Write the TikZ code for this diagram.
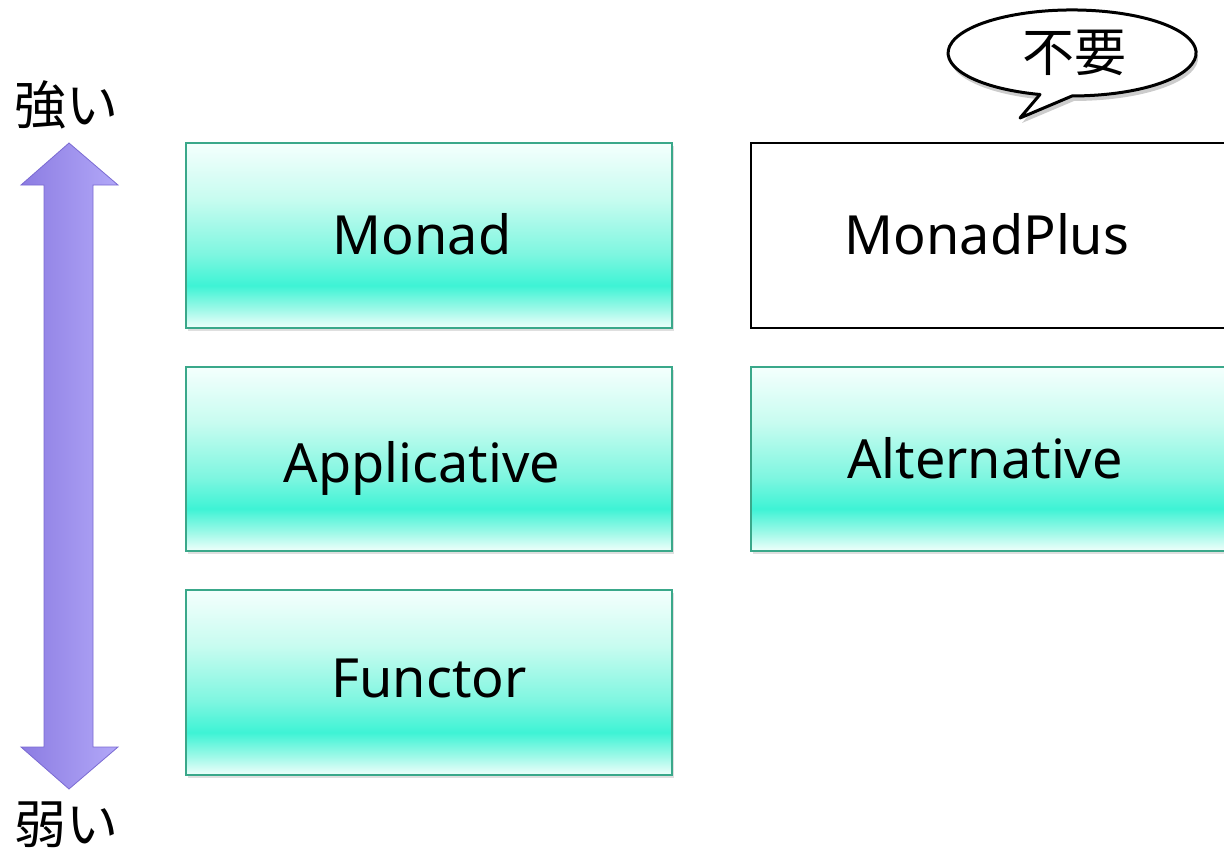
\documentclass[tikz,border=0pt]{standalone}
\usepackage{fontspec}
\setmainfont{Noto Sans}
\newfontfamily\jpfont{Noto Sans CJK JP}
\usetikzlibrary{shadows}
\definecolor{bA}{HTML}{F0FFFB}
\definecolor{bB}{HTML}{9FF9E8}
\definecolor{bC}{HTML}{3EF3D5}
\definecolor{bD}{HTML}{7EF6E0}
\definecolor{bDD}{HTML}{C8FCF0}
\definecolor{bE}{HTML}{F4FFFD}
\definecolor{boxedge}{HTML}{3AA88A}
\definecolor{arrL}{HTML}{8C7CE2}
\definecolor{arrR}{HTML}{B2A8F8}
\definecolor{arrEdge}{HTML}{7A6AD2}
\pgfdeclareverticalshading{boxshade}{100bp}{color(0bp)=(bA); color(25bp)=(bA); color(30bp)=(bB); color(36.5bp)=(bC); color(45bp)=(bD); color(60bp)=(bDD); color(75bp)=(bE); color(100bp)=(bE)}
\tikzset{
  classbox/.style={draw=boxedge, line width=2.5pt, shading=boxshade,
    drop shadow={opacity=0.25, shadow xshift=1.5pt, shadow yshift=-2.5pt}},
  plainbox/.style={draw=black, line width=2.5pt, fill=white},
  lbl/.style={font=\fontsize{54}{60}\selectfont, anchor=base, inner sep=0pt},
  jlbl/.style={font=\jpfont\fontsize{52}{56}\selectfont, inner sep=0pt},
}
\begin{document}
\begin{tikzpicture}[x=1pt,y=-1pt]
\useasboundingbox (0,0) rectangle (1224,851);
% boxes
\path[classbox] (186,143) rectangle (672,328);
\path[classbox] (186,367) rectangle (672,551);
\path[classbox] (186,590) rectangle (672,775);
\path[plainbox] (751,143) rectangle (1232,328);
\path[classbox] (751,367) rectangle (1232,551);
\node[lbl] (monad) at (422,254) {Monad};
\node[lbl] (applicative) at (422,482) {Applicative};
\node[lbl] (functor) at (429,697) {Functor};
\node[lbl] (monadplus) at (987,254) {MonadPlus};
\node[lbl] (alternative) at (985,478) {Alternative};
% double arrow
\path[draw=arrEdge, line width=0.8pt, left color=arrL, right color=arrR]
  (69,143) -- (118,185) -- (93,185) -- (93,747) -- (118,747) -- (69,789)
  -- (21,747) -- (44,747) -- (44,185) -- (21,185) -- cycle;
\node[jlbl] (strong) at (66,105) {強い};
\node[jlbl] (weak) at (66,825) {弱い};
% speech bubble
\path[draw=black, line width=3pt, fill=white, line join=round,
  drop shadow={opacity=0.4, shadow xshift=2pt, shadow yshift=-5pt}]
  (1040,94.5) arc[start angle=105, end angle=450, x radius=124, y radius=43]
  -- (1020,118) -- cycle;
\node[jlbl] (fuyou) at (1074,53) {不要};
\end{tikzpicture}
\end{document}
